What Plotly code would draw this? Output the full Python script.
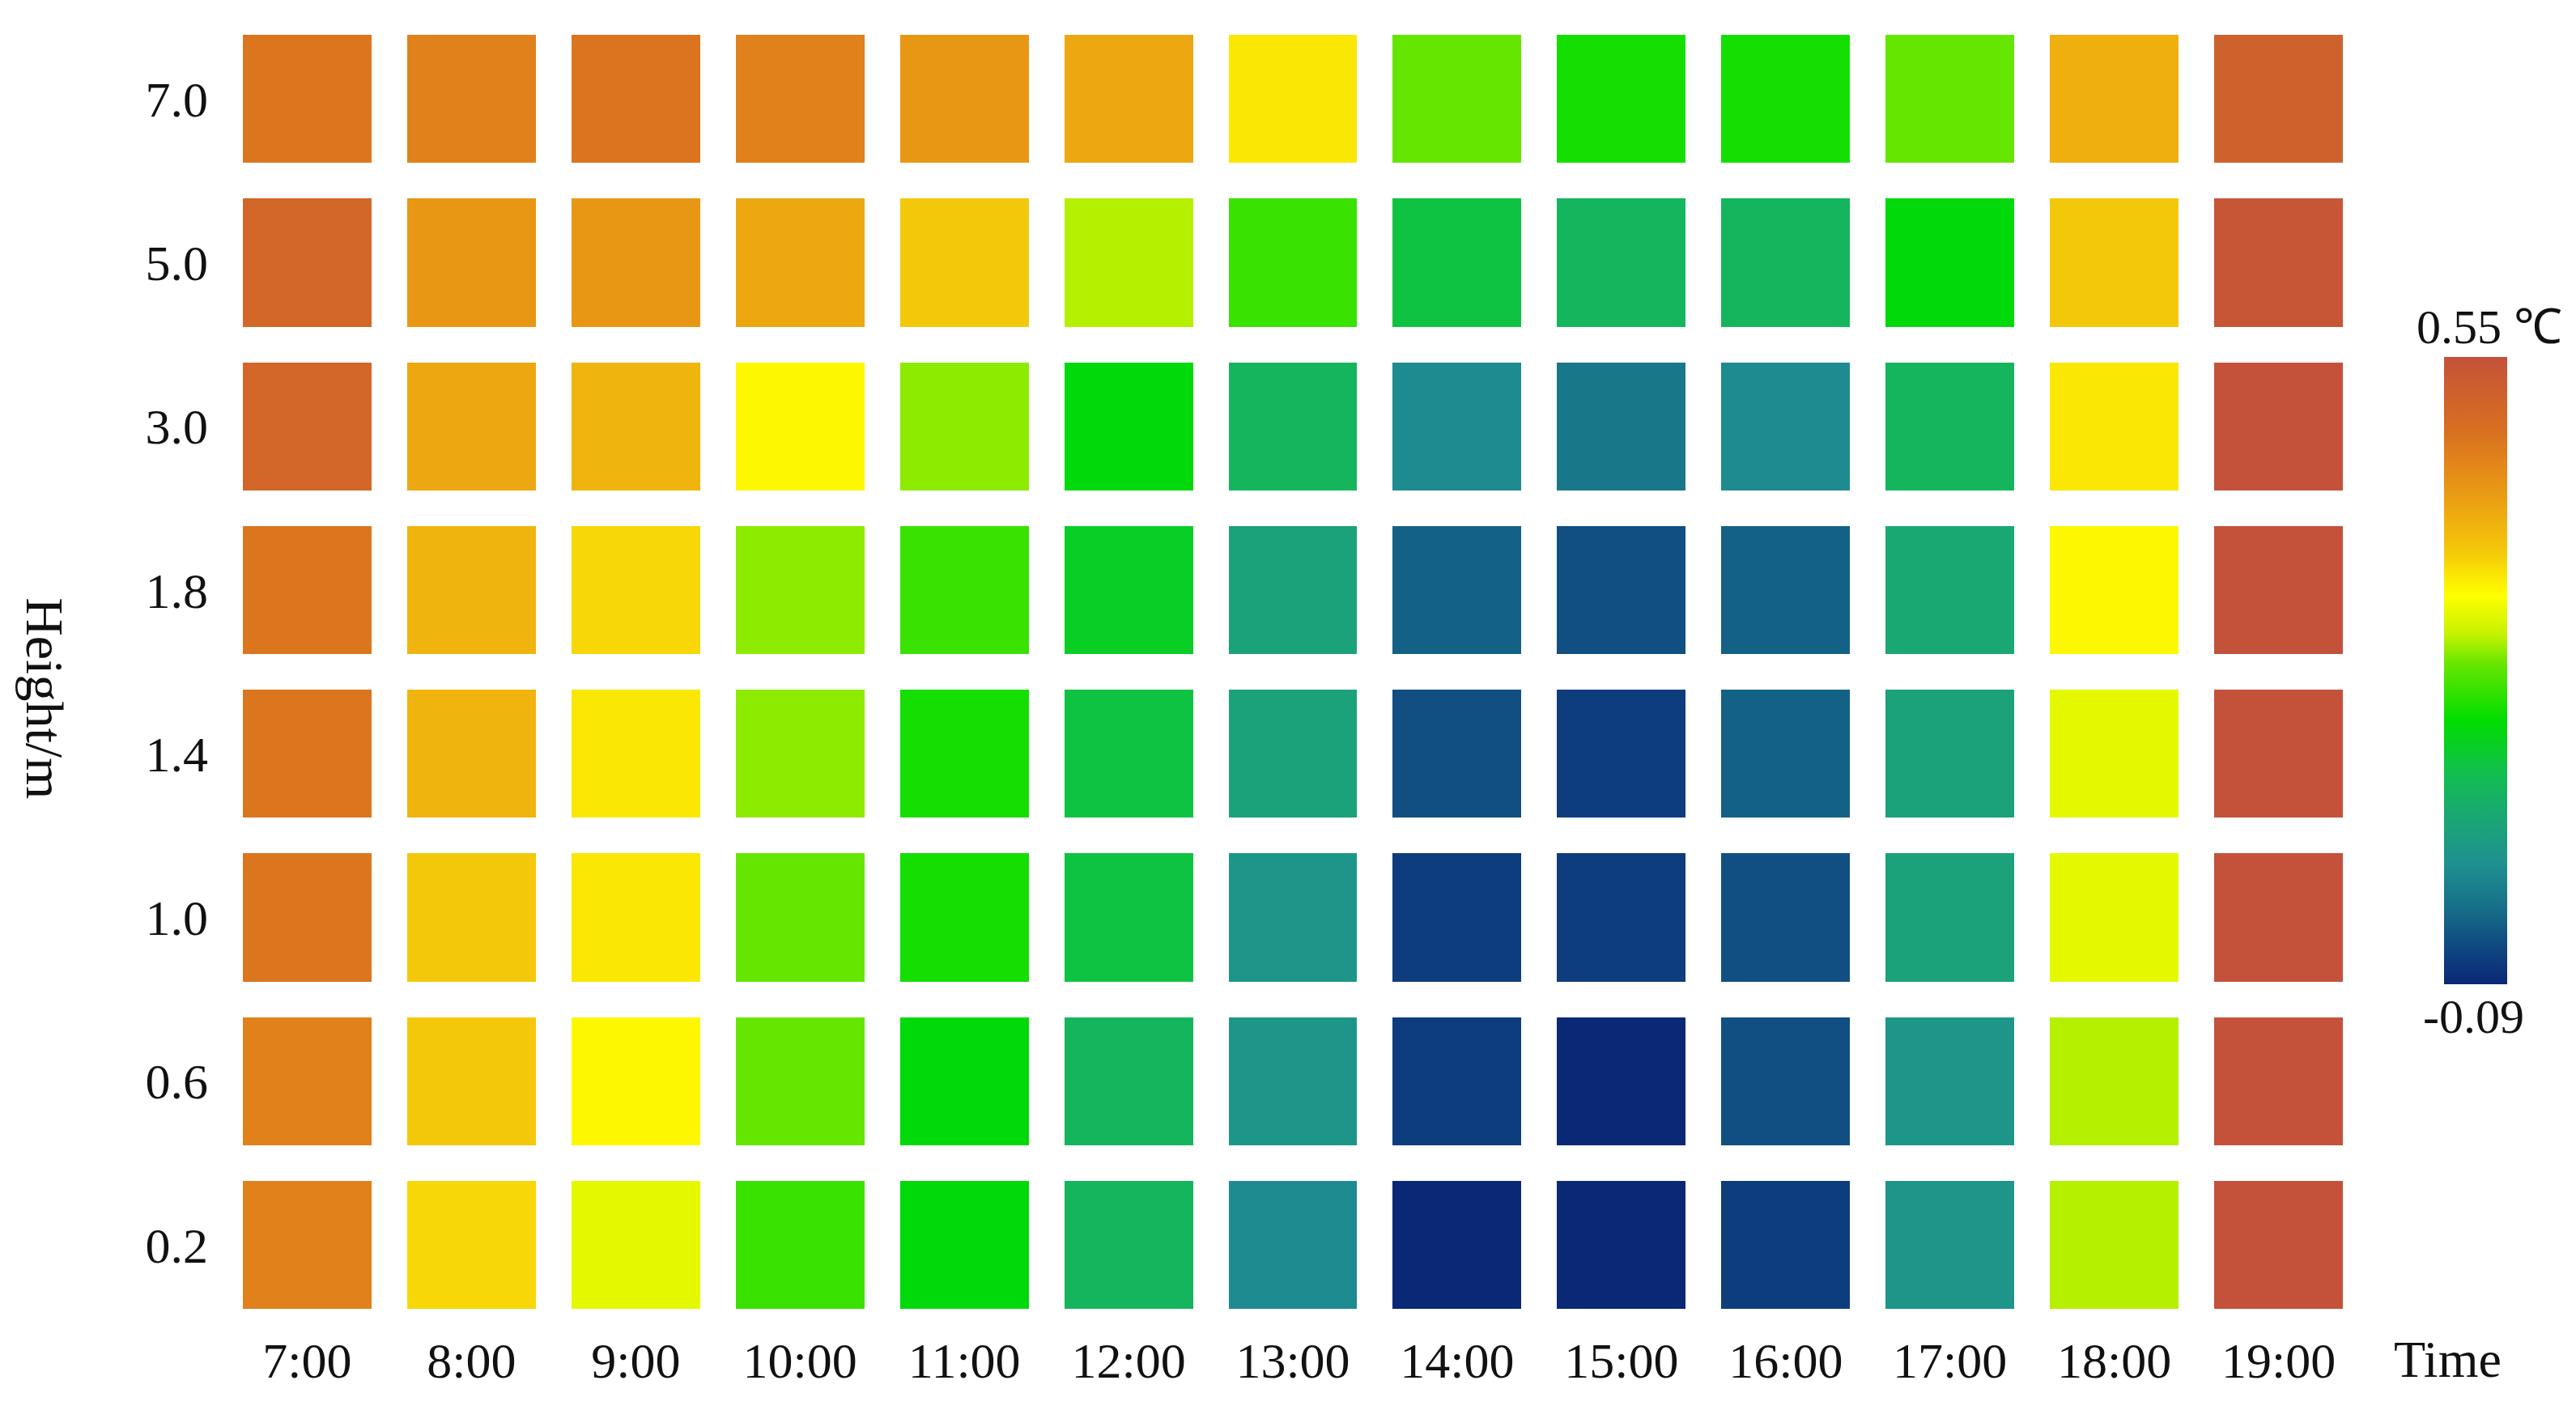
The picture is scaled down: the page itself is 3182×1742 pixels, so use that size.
import plotly.graph_objects as go

# Temperature difference by height and time of day
TIMES = ["7:00", "8:00", "9:00", "10:00", "11:00", "12:00", "13:00",
         "14:00", "15:00", "16:00", "17:00", "18:00", "19:00"]
HEIGHTS = ["7.0", "5.0", "3.0", "1.8", "1.4", "1.0", "0.6", "0.2"]

H_7_0 = [0.465, 0.448, 0.468, 0.448, 0.416, 0.393, 0.326, 0.236, 0.190, 0.190, 0.236, 0.384, 0.510]
H_5_0 = [0.495, 0.416, 0.416, 0.393, 0.352, 0.262, 0.211, 0.134, 0.108, 0.108, 0.172, 0.352, 0.540]
H_3_0 = [0.495, 0.393, 0.377, 0.313, 0.249, 0.172, 0.108, 0.025, 0.000, 0.025, 0.108, 0.326, 0.550]
H_1_8 = [0.465, 0.377, 0.339, 0.249, 0.211, 0.153, 0.070, -0.026, -0.045, -0.026, 0.083, 0.313, 0.550]
H_1_4 = [0.465, 0.377, 0.326, 0.249, 0.190, 0.134, 0.070, -0.045, -0.064, -0.026, 0.070, 0.288, 0.550]
H_1_0 = [0.465, 0.352, 0.326, 0.236, 0.190, 0.134, 0.044, -0.064, -0.064, -0.045, 0.070, 0.288, 0.550]
H_0_6 = [0.448, 0.352, 0.313, 0.236, 0.172, 0.108, 0.044, -0.064, -0.090, -0.045, 0.044, 0.262, 0.550]
H_0_2 = [0.448, 0.339, 0.288, 0.211, 0.172, 0.108, 0.025, -0.090, -0.090, -0.064, 0.044, 0.262, 0.550]

Z_MIN, Z_MAX = -0.09, 0.55

COLORSCALE = [
    [0.00, "#0B2876"],
    [0.055, "#0F4580"],
    [0.12, "#166E88"],
    [0.19, "#1E9090"],
    [0.27, "#1AA872"],
    [0.335, "#12BE50"],
    [0.42, "#00DD00"],
    [0.51, "#66E600"],
    [0.56, "#C8F200"],
    [0.62, "#FFFF00"],
    [0.69, "#F4C80A"],
    [0.75, "#EEAA10"],
    [0.82, "#E48A18"],
    [0.88, "#D87020"],
    [1.00, "#C4523A"],
]

FONT = "Liberation Serif, Times New Roman, serif"

z = [H_7_0, H_5_0, H_3_0, H_1_8, H_1_4, H_1_0, H_0_6, H_0_2]

fig = go.Figure(go.Heatmap(
    x=TIMES,
    y=HEIGHTS,
    z=z,
    zmin=Z_MIN,
    zmax=Z_MAX,
    colorscale=COLORSCALE,
    xgap=44,
    ygap=44,
    colorbar=dict(
        x=1.039, xanchor="left", xpad=0,
        y=0.501, yanchor="middle", ypad=0,
        thickness=78,
        len=775, lenmode="pixels",
        outlinewidth=0,
        showticklabels=False,
        ticks="",
    ),
))

fig.update_layout(
    width=3182, height=1742,
    plot_bgcolor="white",
    paper_bgcolor="white",
    font=dict(family=FONT, color="#111111", size=62),
    margin=dict(l=270, r=274, t=13, b=111),
    xaxis=dict(showgrid=False, zeroline=False, showline=False, ticks="",
               tickfont=dict(size=62)),
    yaxis=dict(showgrid=False, zeroline=False, showline=False, ticks="",
               autorange="reversed", tickfont=dict(size=62), ticklabelstandoff=20),
)

# Axis labels and colorbar end labels
fig.add_annotation(text="Time", xref="paper", yref="paper", x=1.0406, y=-0.0253,
                   xanchor="center", yanchor="middle", showarrow=False,
                   font=dict(size=64))
fig.add_annotation(text="Height/m", xref="paper", yref="paper", x=-0.0842, y=0.4796,
                   xanchor="center", yanchor="middle", showarrow=False,
                   textangle=90, font=dict(size=66))
fig.add_annotation(text="0.55 ℃", xref="paper", yref="paper", x=1.0603, y=0.763,
                   xanchor="center", yanchor="middle", showarrow=False,
                   font=dict(size=60))
fig.add_annotation(text="-0.09", xref="paper", yref="paper", x=1.053, y=0.2367,
                   xanchor="center", yanchor="middle", showarrow=False,
                   font=dict(size=60))

fig.write_html("out.html")
